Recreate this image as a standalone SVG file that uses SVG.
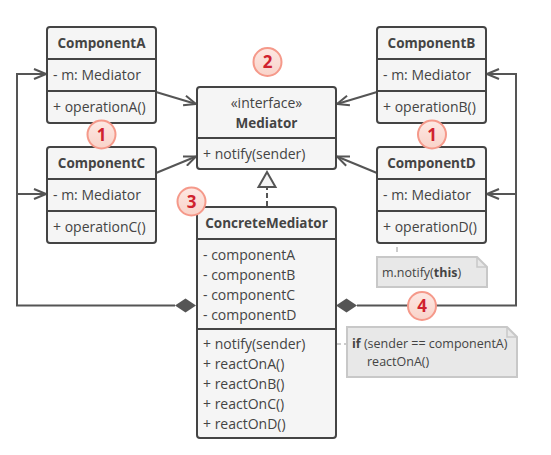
<svg xmlns="http://www.w3.org/2000/svg" width="551" height="455" viewBox="0 0 551 455">
<style>
.box{fill:#f5f5f5;stroke:#444;stroke-width:2}
.div{stroke:#444;stroke-width:2}
.t{font-family:"Open Sans","Liberation Sans",sans-serif;font-size:14px;fill:#444}
.b{font-weight:bold;font-size:13.5px}
.c{text-anchor:middle}
.ln{fill:none;stroke:#555;stroke-width:2}
.note{fill:#e8e8e8;stroke:#c8c8c8;stroke-width:2}
.nt{font-family:"Open Sans","Liberation Sans",sans-serif;font-size:12.5px;fill:#444}
.mk{fill:url(#mg);stroke:#f5998a;stroke-width:2}
.mn{font-family:"Open Sans","Liberation Sans",sans-serif;font-size:17px;font-weight:bold;fill:#d0222e;text-anchor:middle}
</style>
<defs>
<marker id="arr" viewBox="0 0 14 12" refX="13" refY="6" markerWidth="14" markerHeight="12" markerUnits="userSpaceOnUse" orient="auto">
<path d="M1,1 L13,6 L1,11" fill="none" stroke="#555" stroke-width="2"/>
</marker>
<linearGradient id="mg" x1="0" y1="0" x2="0" y2="1">
<stop offset="0" stop-color="#fde8e3"/>
<stop offset="1" stop-color="#f9d3c9"/>
</linearGradient>
</defs>
<g id="connectors">
<polyline class="ln" points="175,305.5 17,305.5 17,74 46,74" marker-end="url(#arr)"/>
<line class="ln" x1="17" y1="194" x2="46" y2="194" marker-end="url(#arr)"/>
<polyline class="ln" points="357,305.5 516,305.5 516,74 487,74" marker-end="url(#arr)"/>
<line class="ln" x1="516" y1="194" x2="487" y2="194" marker-end="url(#arr)"/>
<polygon points="175,305.5 185.5,298.5 196,305.5 185.5,312.5" fill="#555"/>
<polygon points="336,305.5 346.5,298.5 357,305.5 346.5,312.5" fill="#555"/>
<line class="ln" x1="156" y1="92" x2="196" y2="104" marker-end="url(#arr)"/>
<line class="ln" x1="156" y1="173" x2="196" y2="156.5" marker-end="url(#arr)"/>
<line class="ln" x1="377" y1="92" x2="337" y2="104" marker-end="url(#arr)"/>
<line class="ln" x1="377" y1="173" x2="337" y2="156.5" marker-end="url(#arr)"/>
<line class="ln" x1="267" y1="206" x2="267" y2="187" stroke-dasharray="5,3"/>
<polygon points="267,172 258.5,187 275.5,187" fill="#f5f5f5" stroke="#555" stroke-width="2"/>
<line x1="397" y1="247" x2="397" y2="252" stroke="#ccc" stroke-width="2"/>
<line x1="323" y1="344" x2="347" y2="344" stroke="#ccc" stroke-width="2" stroke-dasharray="4,3"/>
<circle cx="319" cy="344" r="3.5" fill="#f5f5f5" stroke="#bbb" stroke-width="1.5"/>
</g>
<g id="componentA">
<rect class="box" x="47" y="27" width="109" height="96" rx="3"/>
<line class="div" x1="47" y1="59" x2="156" y2="59"/>
<line class="div" x1="47" y1="91" x2="156" y2="91"/>
<text class="t b c" x="101.5" y="48">ComponentA</text>
<text class="t" x="53" y="80">- m: Mediator</text>
<text class="t" x="53" y="112">+ operationA()</text>
</g>
<g id="componentC">
<rect class="box" x="47" y="147" width="109" height="96" rx="3"/>
<line class="div" x1="47" y1="179" x2="156" y2="179"/>
<line class="div" x1="47" y1="211" x2="156" y2="211"/>
<text class="t b c" x="101.5" y="168">ComponentC</text>
<text class="t" x="53" y="200">- m: Mediator</text>
<text class="t" x="53" y="232">+ operationC()</text>
</g>
<g id="componentB">
<rect class="box" x="377" y="27" width="109" height="96" rx="3"/>
<line class="div" x1="377" y1="59" x2="486" y2="59"/>
<line class="div" x1="377" y1="91" x2="486" y2="91"/>
<text class="t b c" x="431.5" y="48">ComponentB</text>
<text class="t" x="383" y="80">- m: Mediator</text>
<text class="t" x="383" y="112">+ operationB()</text>
</g>
<g id="componentD">
<rect class="box" x="377" y="147" width="109" height="96" rx="3"/>
<line class="div" x1="377" y1="179" x2="486" y2="179"/>
<line class="div" x1="377" y1="211" x2="486" y2="211"/>
<text class="t b c" x="431.5" y="168">ComponentD</text>
<text class="t" x="383" y="200">- m: Mediator</text>
<text class="t" x="383" y="232">+ operationD()</text>
</g>
<g id="mediator">
<rect class="box" x="197" y="87" width="139" height="82" rx="3"/>
<line class="div" x1="197" y1="138" x2="336" y2="138"/>
<text class="t c" x="266.5" y="108">«interface»</text>
<text class="t b c" x="266.5" y="128">Mediator</text>
<text class="t" x="203" y="159">+ notify(sender)</text>
</g>
<g id="concreteMediator">
<rect class="box" x="197" y="207" width="139" height="231" rx="3"/>
<line class="div" x1="197" y1="239" x2="336" y2="239"/>
<line class="div" x1="197" y1="329" x2="336" y2="329"/>
<text class="t b c" x="266.5" y="228">ConcreteMediator</text>
<text class="t" x="203" y="260">- componentA</text>
<text class="t" x="203" y="280">- componentB</text>
<text class="t" x="203" y="300">- componentC</text>
<text class="t" x="203" y="320">- componentD</text>
<text class="t" x="203" y="349">+ notify(sender)</text>
<text class="t" x="203" y="369">+ reactOnA()</text>
<text class="t" x="203" y="389">+ reactOnB()</text>
<text class="t" x="203" y="409">+ reactOnC()</text>
<text class="t" x="203" y="429">+ reactOnD()</text>
</g>
<g id="note1">
<path class="note" d="M377,257 H477 L487,267 V287 H377 Z"/>
<path d="M477,257 V267 H487" fill="none" stroke="#c8c8c8" stroke-width="1.5"/>
<text class="nt" x="382" y="277">m.notify(<tspan font-weight="bold">this</tspan>)</text>
</g>
<g id="note2">
<path class="note" d="M347,327 H507 L517,337 V377 H347 Z"/>
<path d="M507,327 V337 H517" fill="none" stroke="#c8c8c8" stroke-width="1.5"/>
<text class="nt" x="352" y="348"><tspan font-weight="bold">if</tspan> (sender == componentA)</text>
<text class="nt" x="367" y="366">reactOnA()</text>
</g>
<g id="marker1a"><circle class="mk" cx="101.5" cy="134.5" r="14"/><text class="mn" x="101.5" y="140.5">1</text></g>
<g id="marker1b"><circle class="mk" cx="432" cy="134.5" r="14"/><text class="mn" x="432" y="140.5">1</text></g>
<g id="marker2"><circle class="mk" cx="267.5" cy="62" r="14"/><text class="mn" x="267.5" y="68">2</text></g>
<g id="marker3"><circle class="mk" cx="191.5" cy="201.5" r="14"/><text class="mn" x="191.5" y="207.5">3</text></g>
<g id="marker4"><circle class="mk" cx="422" cy="306" r="14"/><text class="mn" x="422" y="312">4</text></g>
</svg>
